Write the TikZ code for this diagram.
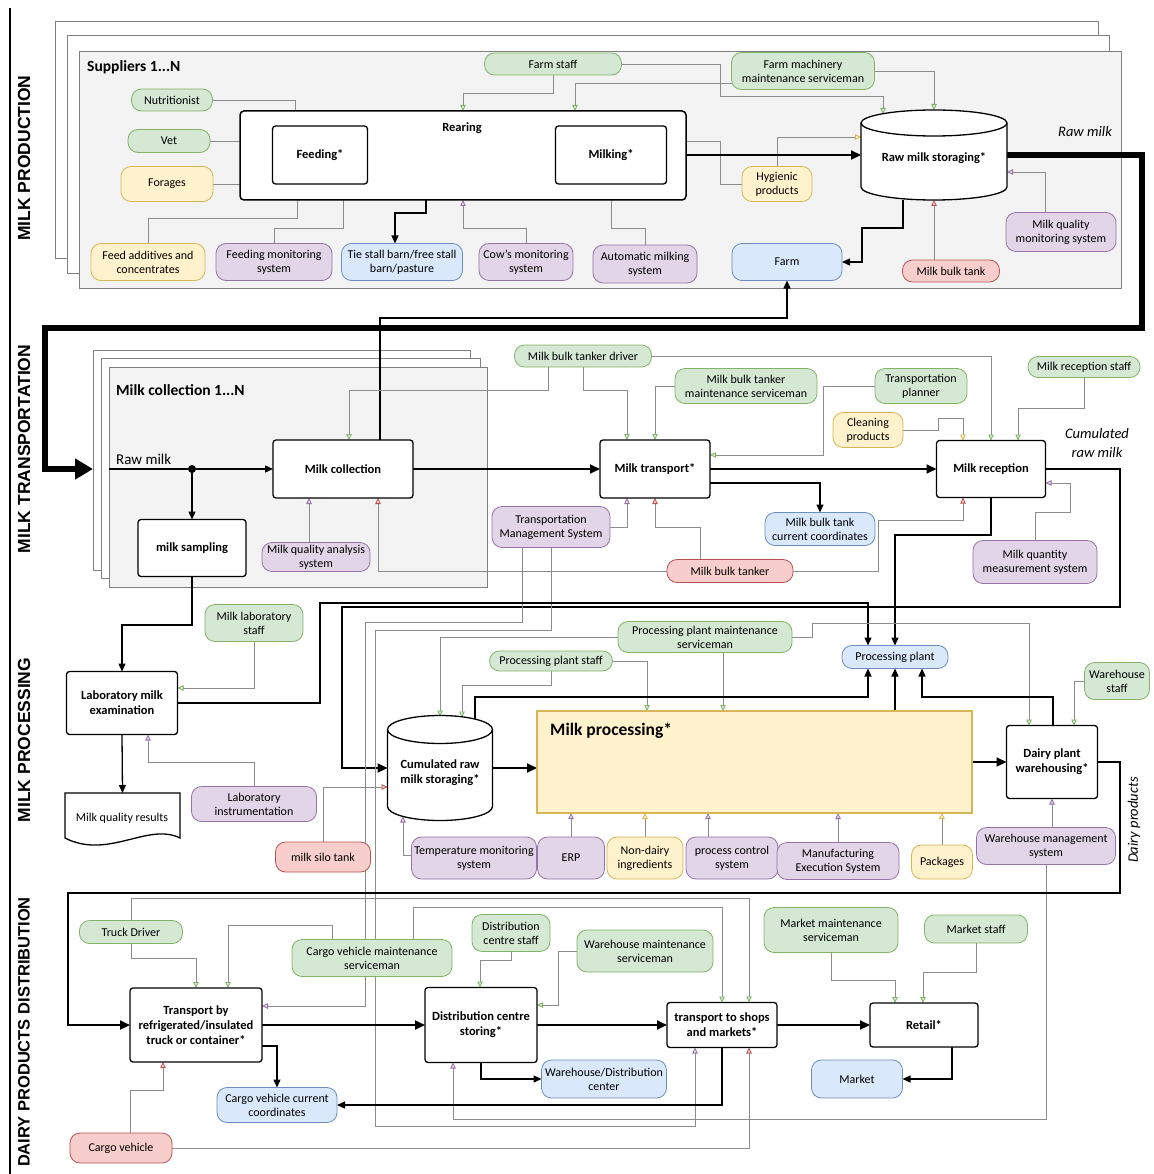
\documentclass[tikz,border=0pt]{standalone}
\usepackage{fontspec}
\setmainfont{Carlito}
\newfontfamily\lanefont{Liberation Sans}
\usetikzlibrary{arrows.meta}
\pgfdeclarelayer{framelayer}
\pgfdeclarelayer{linelayer}
\pgfsetlayers{framelayer,linelayer,main}

\definecolor{gfill}{HTML}{D5E8D4}\definecolor{gline}{HTML}{82B366}
\definecolor{yfill}{HTML}{FFF2CC}\definecolor{yline}{HTML}{D6B656}
\definecolor{pfill}{HTML}{E1D5E7}\definecolor{pline}{HTML}{9673A6}
\definecolor{bfill}{HTML}{DAE8FC}\definecolor{bline}{HTML}{6C8EBF}
\definecolor{rfill}{HTML}{F8CECC}\definecolor{rline}{HTML}{B85450}
\definecolor{conn}{HTML}{8C8C8C}
\definecolor{lanegray}{HTML}{7F7F7F}
\definecolor{framefill}{HTML}{F3F3F3}

\tikzset{
  wh/.style 2 args={minimum width=#1pt, minimum height=#2pt},
  pill/.style={rounded corners=10pt, line width=0.8pt, align=center, inner sep=0.5pt, outer sep=0pt,
    font=\fontsize{12}{14}\selectfont},
  gpill/.style={pill, fill=gfill, draw=gline},
  ypill/.style={pill, fill=yfill, draw=yline},
  ppill/.style={pill, fill=pfill, draw=pline},
  bpill/.style={pill, fill=bfill, draw=bline},
  rpill/.style={pill, fill=rfill, draw=rline},
  proc/.style={draw=black, line width=1.3pt, rounded corners=3pt, fill=white, align=center,
    inner sep=1pt, outer sep=0pt, font=\bfseries\fontsize{12.5}{15}\selectfont},
  proctext/.style={align=center, inner sep=0pt, font=\bfseries\fontsize{12.5}{15}\selectfont},
  holder/.style={draw=none, inner sep=0pt, outer sep=0pt},
  cylbody/.style={draw=black, line width=1.3pt, fill=white},
  conline/.style={draw=conn, line width=0.8pt},
  gar/.style={conline, -{Triangle[length=6pt,width=5.5pt,fill=gfill,color=gline]}},
  yar/.style={conline, -{Triangle[length=6pt,width=5.5pt,fill=yfill,color=yline]}},
  par/.style={conline, -{Triangle[length=6pt,width=5.5pt,fill=pfill,color=pline]}},
  rar/.style={conline, -{Triangle[length=6pt,width=5.5pt,fill=rfill,color=rline]}},
  bflow/.style={draw=black, line width=1.3pt, -{Triangle[length=8pt,width=7pt]}},
  mflow/.style={draw=black, line width=2pt, -{Triangle[length=10pt,width=9pt]}},
  thickflow/.style={draw=black, line width=2.2pt, -{Triangle[length=10pt,width=9pt]}},
  bigflow/.style={draw=black, line width=5.5pt, -{Triangle[length=18pt,width=20pt]}},
  laneline/.style={draw=lanegray, line width=0.6pt, double=white, double distance=1.2pt},
  lanelbl/.style={rotate=90, inner sep=0pt, font=\lanefont\bfseries\fontsize{17.5}{19}\selectfont},
  framelbl/.style={anchor=west, inner sep=0pt, font=\bfseries\fontsize{15.5}{17}\selectfont},
  backframe/.style={draw=lanegray, line width=0.8pt, fill=white},
  frontframe/.style={draw=lanegray, line width=0.8pt, fill=framefill},
  note/.style={align=center, inner sep=0pt, font=\itshape\fontsize{14.5}{19}\selectfont},
}

% cylinder outline around a holder node: #1 node, #2 half width, #3 half height of the ellipse
\newcommand\drawcyl[3]{%
  \draw[cylbody] ([yshift=-#3]#1.north west) -- ([yshift=#3]#1.south west)
    arc[start angle=180,end angle=360,x radius=#2,y radius=#3]
    -- ([yshift=-#3]#1.north east)
    arc[start angle=0,end angle=180,x radius=#2,y radius=#3] -- cycle;
  \draw[draw=black, line width=1.3pt] ([yshift=-#3]#1.north west)
    arc[start angle=180,end angle=360,x radius=#2,y radius=#3];}

\begin{document}
\begin{tikzpicture}[x=1pt,y=-1pt]
\useasboundingbox (0,0) rectangle (1153,1174);

% ---------------- swimlanes and stacked frames ----------------
\begin{pgfonlayer}{framelayer}
  \fill[white] (0,0) rectangle (1153,1174);
  \draw[laneline] (10,8) -- (1152,8);
  \draw[laneline] (10,302) -- (1152,302);
  \draw[laneline] (10,593) -- (1152,593);
  \draw[laneline] (10,885) -- (1152,885);
  \draw[laneline] (38,8) -- (38,1174);
  \draw[line width=2.5pt] (10,8) -- (10,1174);
  % suppliers
  \draw[backframe] (55,21) rectangle (1098,258);
  \draw[backframe] (67,35) rectangle (1109,273);
  \draw[frontframe] (79,51) rectangle (1121,288);
  % milk collection points
  \draw[backframe] (93,350) rectangle (470,570);
  \draw[backframe] (101,358) rectangle (480,578);
  \draw[frontframe] (109,367) rectangle (487,587);
\end{pgfonlayer}

\node[lanelbl] (lane1) at (24,158) {MILK PRODUCTION};
\node[lanelbl] (lane2) at (24,449) {MILK TRANSPORTATION};
\node[lanelbl] (lane3) at (24,740) {MILK PROCESSING};
\node[lanelbl, font=\lanefont\bfseries\fontsize{16.5}{18}\selectfont] (lane4) at (24,1032) {DAIRY PRODUCTS DISTRIBUTION};

\node[framelbl] (suplbl) at (87,67) {Suppliers 1...N};
\node[framelbl] (colllbl) at (116,390) {Milk collection 1...N};

% ---------------- milk production ----------------
\node[proc, line width=1.5pt, rounded corners=4pt, wh={446}{89}] (rear) at (463,155.5) {};
\node[proctext] (rearlbl) at (462,128) {Rearing};
\node[proc, wh={95}{58}] (feed) at (320,155) {Feeding*};
\node[proc, wh={111}{58}] (milk) at (611,155) {Milking*};
\node[holder, wh={146}{90}] (rs) at (934,155) {};
\drawcyl{rs}{73pt}{13pt}
\node[proctext] (rslbl) at ([yshift=-3pt]rs.center) {Raw milk storaging*};

\node[gpill, wh={81}{22}] (nutr) at (172,100) {Nutritionist};
\node[gpill, wh={82}{23}] (vet) at (169,141) {Vet};
\node[ypill, wh={92}{35}] (forage) at (167,184) {Forages};
\node[ypill, wh={114}{37}] (feedadd) at (148,262) {Feed additives and\\concentrates};
\node[ppill, wh={116}{37}] (fms) at (274,262) {Feeding monitoring\\system};
\node[bpill, wh={121}{37}] (tie) at (402,262) {Tie stall barn/free stall\\barn/pasture};
\node[ppill, wh={94}{37}] (cows) at (526,262) {Cow's monitoring\\system};
\node[ppill, wh={104}{38}] (ams) at (645,264) {Automatic milking\\system};
\node[bpill, wh={110}{37}] (farm) at (787,262) {Farm};
\node[rpill, wh={97}{22}] (mbt) at (951,271) {Milk bulk tank};
\node[ppill, wh={110}{39}] (mqmon) at (1061,232) {Milk quality\\monitoring system};
\node[ypill, wh={70}{35}] (hyg) at (777,184) {Hygienic\\products};
\node[gpill, wh={137}{22}] (fstaff) at (553,64) {Farm staff};
\node[gpill, wh={143}{37}] (fmach) at (803,71) {Farm machinery\\maintenance serviceman};
\node[note] (rawlbl) at (1085,132) {Raw milk};

% ---------------- milk transportation ----------------
\coordinate (rawin) at (93,469);
\coordinate (rawstart) at (109,469);
\coordinate (split) at (192,469);
\node[anchor=west, inner sep=0pt, font=\fontsize{15}{17}\selectfont] (rawlbl2) at (116,459) {Raw milk};
\node[proc, wh={140}{58}] (coll) at (343,469) {Milk collection};
\node[proc, wh={108}{57}] (samp) at (192,548) {milk sampling};
\node[ppill, wh={108}{29}] (mqas) at (316,557) {Milk quality analysis\\system};
\node[proc, wh={110}{58}] (mtrans) at (655,469) {Milk transport*};
\node[proc, wh={109}{57}] (mrec) at (991,469) {Milk reception};
\node[gpill, wh={137}{22}] (driver) at (583,356) {Milk bulk tanker driver};
\node[gpill, wh={142}{35}] (tankmaint) at (746,386) {Milk bulk tanker\\maintenance serviceman};
\node[gpill, wh={92}{35}] (planner) at (921,386) {Transportation\\planner};
\node[ypill, wh={70}{35}] (clean) at (868,430) {Cleaning\\products};
\node[gpill, wh={112}{21}] (recstaff) at (1084,367) {Milk reception staff};
\node[bpill, wh={110}{33}] (coords) at (820,529) {Milk bulk tank\\current coordinates};
\node[ppill, wh={118}{41}] (tms) at (551,527) {Transportation\\Management System};
\node[rpill, wh={126}{23}] (tanker) at (730,571) {Milk bulk tanker};
\node[ppill, wh={124}{43}] (mqms) at (1035,562) {Milk quantity\\measurement system};
\node[note] (cumlbl) at (1097,443) {Cumulated\\raw milk};

% ---------------- milk processing ----------------
\node[proc, wh={111}{63}] (lab) at (122,703) {Laboratory milk\\examination};
\node[holder, wh={115}{47}] (results) at (122.5,816.5) {};
\draw[draw=black, line width=1.3pt, fill=white] (65,793) -- (180,793) -- (180,838)
  .. controls (148,822) and (108,860) .. (65,838) -- cycle;
\node[inner sep=0pt, font=\fontsize{12}{14}\selectfont] (resultslbl) at (122,818) {Milk quality results};
\node[gpill, wh={98}{37}] (labstaff) at (254,623) {Milk laboratory\\staff};
\node[ppill, wh={125}{35}] (labinst) at (254,804) {Laboratory\\instrumentation};
\node[rpill, wh={95}{30}] (silo) at (323,857) {milk silo tank};
\node[holder, wh={105}{105}] (crs) at (440,768) {};
\drawcyl{crs}{52.5pt}{14pt}
\node[proctext] (crslbl) at ([yshift=-5pt]crs.center) {Cumulated raw\\milk storaging*};
\node[gpill, wh={123}{20}] (ppstaff) at (551,661) {Processing plant staff};
\node[gpill, wh={174}{31}] (ppmaint) at (705,637) {Processing plant maintenance\\serviceman};
\node[draw=yline, fill=yfill, line width=1.3pt, inner sep=0pt, outer sep=0pt, wh={435}{102}] (mproc) at (754.5,762) {};
\node[anchor=west, inner sep=0pt, font=\bfseries\fontsize{17.5}{20}\selectfont] (mproclbl) at (550,731) {Milk processing*};
\node[proc, wh={91}{73}] (dpw) at (1052,762) {Dairy plant\\warehousing*};
\node[bpill, wh={106}{23}] (pplant) at (895,657) {Processing plant};
\node[gpill, wh={65}{37}] (whstaff) at (1117,681) {Warehouse\\staff};
\node[ppill, wh={139}{37}] (wms) at (1046,846) {Warehouse management\\system};
\node[ppill, wh={125}{42}] (temp) at (474,858) {Temperature monitoring\\system};
\node[ppill, wh={67}{42}] (erp) at (571,858) {ERP};
\node[ypill, wh={76}{42}] (nondairy) at (645,858) {Non-dairy\\ingredients};
\node[ppill, wh={92}{42}] (pcs) at (732,858) {process control\\system};
\node[ppill, wh={122}{37}] (mes) at (838,861) {Manufacturing\\Execution System};
\node[ypill, wh={61}{34}] (pack) at (942,862) {Packages};
\node[note, rotate=90] (dairylbl) at (1134,820) {Dairy products};

% ---------------- dairy products distribution ----------------
\node[gpill, wh={103}{23}] (truckdrv) at (131,932) {Truck Driver};
\node[proc, wh={132}{74}] (trans) at (196,1025) {Transport by\\refrigerated/insulated\\truck or container*};
\node[gpill, wh={160}{37}] (cvms) at (372,958) {Cargo vehicle maintenance\\serviceman};
\node[rpill, wh={102}{30}] (cargo) at (121,1148) {Cargo vehicle};
\node[bpill, wh={120}{35}] (cvcc) at (277,1105) {Cargo vehicle current\\coordinates};
\node[gpill, wh={78}{37}] (dcstaff) at (511,933) {Distribution\\centre staff};
\node[gpill, wh={136}{42}] (whms) at (645,951) {Warehouse maintenance\\serviceman};
\node[proc, wh={112}{75}] (dcs) at (481,1025) {Distribution centre\\storing*};
\node[bpill, wh={125}{38}] (wdc) at (604,1079) {Warehouse/Distribution\\center};
\node[proc, wh={110}{45}] (tsm) at (722,1025) {transport to shops\\and markets*};
\node[proc, wh={108}{44}] (retail) at (924,1025) {Retail*};
\node[gpill, wh={134}{45}] (mms) at (831,930) {Market maintenance\\serviceman};
\node[gpill, wh={103}{28}] (mstaff) at (976,929) {Market staff};
\node[bpill, wh={91}{38}] (market) at (857,1079) {Market};

\path ([xshift=-24pt]pcs.north) coordinate (pcsup);

% ---------------- connectors ----------------
\begin{pgfonlayer}{linelayer}
  % milk production
  \draw[gar] (nutr.east) -| ([xshift=-25pt]feed.north);
  \draw[gar] (vet.east) -- (vet.east -| feed.west);
  \draw[yar] (forage.east) -- (245,184) |- ([yshift=-15pt]feed.west);
  \draw[yar] (feedadd.north) |- (297,218) -- ([xshift=-23pt]feed.south);
  \draw[par] (fms.north) |- (343,228) -- ([xshift=23pt]feed.south);
  \draw[bflow] ([xshift=-37pt]rear.south) |- (395,213) -- ([xshift=-7pt]tie.north);
  \draw[par] (cows.north) |- (463,228) -- (rear.south);
  \draw[par] (ams.north) |- (611,228) -- (milk.south);
  \draw[gar] (fstaff.south) |- (463,93) -- (rear.north);
  \draw[gar] ([yshift=-12pt]fmach.west) -| ([xshift=112pt]rear.north);
  \draw[gar] (fstaff.east) -| (720,96) -| ([xshift=-51pt,yshift=-4pt]rs.north);
  \draw[gar] (fmach.east) -| (rs.north);
  \draw[yar] (hyg.west) -- (720,184) |- ([yshift=14pt]milk.east);
  \draw[yar] (hyg.north) |- ([yshift=18pt]rs.west);
  \draw[mflow] (milk.east) -- (rs.west);
  \draw[bflow] ([xshift=-31pt]rs.south) |- (862,228) |- (farm.east);
  \draw[rar] ([xshift=-17pt]mbt.north) -- (rs.south);
  \draw[par] ([xshift=-16pt]mqmon.north) |- ([yshift=-17pt]rs.east);
  \draw[bigflow] (rs.east) -| (1142,328) -| (45,469) -- (rawin);
  \draw[bflow] ([xshift=37pt]coll.north) |- (787,318) -- (farm.south);

  % milk transportation
  \draw[bflow] (rawstart) -- (coll.west);
  \fill (split) circle[radius=4pt];
  \draw[bflow] (split) -- (samp.north);
  \draw[par] ([xshift=-7pt]mqas.north) -- ([xshift=-34pt]coll.south);
  \draw[rar] (tanker.west) -| ([xshift=35pt]coll.south);
  \draw[gar] ([xshift=-35pt]driver.south) |- (349,390) -- ([xshift=6pt]coll.north);
  \draw[gar] (driver.south) |- (627,390) -- ([xshift=-28pt]mtrans.north);
  \draw[gar] (driver.east) -| (mrec.north);
  \draw[gar] (tankmaint.west) -| (mtrans.north);
  \draw[gar] (planner.west) -- (823,386) |- ([yshift=14pt]mtrans.east);
  \draw[yar] (clean.east) -| (938,418) -| ([xshift=-28pt]mrec.north);
  \draw[gar] (recstaff.south) |- (1018,408) -- ([xshift=27pt]mrec.north);
  \draw[mflow] (coll.east) -- (mtrans.west);
  \draw[mflow] (mtrans.east) -- (mrec.west);
  \draw[bflow] ([yshift=-14pt]mtrans.east) -| (coords.north);
  \draw[par] (tms.east) -| ([xshift=-28pt]mtrans.south);
  \draw[rar] ([xshift=-30pt]tanker.north) |- (655,527) -- (mtrans.south);
  \draw[rar] (tanker.east) -| (878,520) -| ([xshift=-28pt]mrec.south);
  \draw[par] (mqms.north) |- (1070,512) |- ([yshift=-14pt]mrec.east);
  \draw[bflow] (mrec.south) |- (895,535) -- (pplant.north);
  \draw[thickflow] (mrec.east) -| (1120,607) -| (342,768) -- (crs.west);
  \draw[par] ([xshift=-29pt]tms.south) |- (365,622) |- ([yshift=19pt]trans.east);
  \draw[par] (tms.south) |- (375,630) |- (695,1126) -- ([xshift=-27pt]tsm.south);

  % milk processing
  \draw[bflow] (samp.south) |- (122,625) -- (lab.north);
  \draw[bflow] (lab.south) -- (results.north);
  \draw[gar] (labstaff.south) |- ([yshift=15pt]lab.east);
  \draw[par] (labinst.north) |- (148,762) -- ([xshift=26pt]lab.south);
  \draw[bflow] (lab.east) -| (320,603) -| ([xshift=-27pt]pplant.north);
  \draw[rar] (silo.north) |- ([yshift=-19pt]crs.west);
  \draw[par] ([yshift=3pt]temp.west) -| ([xshift=-37pt,yshift=4pt]crs.south);
  \draw[gar] (ppstaff.south) |- (462,685) -- ([xshift=22pt,yshift=-2pt]crs.north);
  \draw[gar] (ppmaint.west) -| ([yshift=-1pt]crs.north);
  \draw[gar] (ppstaff.east) -| ([xshift=-107.5pt]mproc.north);
  \draw[gar] ([xshift=18pt]ppmaint.south) -- ([xshift=-31.5pt]mproc.north);
  \draw[gar] (ppmaint.east) -| (812,623) -| ([xshift=-23pt]dpw.north);
  \draw[mflow] (crs.east) -- (crs.east -| mproc.west);
  \draw[mflow] (mproc.east) -- (dpw.west);
  \draw[bflow] ([xshift=35pt,yshift=-4pt]crs.north) |- (868,697) -- ([xshift=-27pt]pplant.south);
  \draw[bflow] ([xshift=140.5pt]mproc.north) -- (pplant.south);
  \draw[bflow] ([xshift=1pt]dpw.north) |- (922,697) -- ([xshift=27pt]pplant.south);
  \draw[gar] (whstaff.west) -| ([xshift=22pt]dpw.north);
  \draw[par] ([xshift=6pt]wms.north) -- (dpw.south);
  \draw[par] (wms.south) |- (453,1119) -- ([xshift=-28pt]dcs.south);
  \draw[par] (erp.north) -- (erp.north |- mproc.south);
  \draw[yar] (nondairy.north) -- (nondairy.north |- mproc.south);
  \draw[par] (pcsup) -- (pcsup |- mproc.south);
  \draw[par] (mes.north) -- (mes.north |- mproc.south);
  \draw[yar] (pack.north) -- (pack.north |- mproc.south);

  % dairy products distribution
  \draw[thickflow] (dpw.east) -| (1120,893) -| (68,1025) -- (trans.west);
  \draw[gar] (truckdrv.south) |- (196,958) -- (trans.north);
  \draw[gar] (truckdrv.north) |- (749,898) -- ([xshift=27pt]tsm.north);
  \draw[gar] ([xshift=-40pt]cvms.north) |- (228,925) -- ([xshift=32pt]trans.north);
  \draw[gar] ([xshift=41pt]cvms.north) |- (722,907) -- (tsm.north);
  \draw[rar] ([xshift=9pt]cargo.north) |- (163,1090) -- ([xshift=-33pt]trans.south);
  \draw[rar] (cargo.east) -| ([xshift=27pt]tsm.south);
  \draw[bflow] ([yshift=-21pt]trans.east) -| (cvcc.north);
  \draw[mflow] (trans.east) -- (dcs.west);
  \draw[gar] (dcstaff.south) |- (480,960) -- ([xshift=-1pt]dcs.north);
  \draw[gar] (whms.west) -- (558,951) |- ([yshift=20pt]dcs.east);
  \draw[bflow] (dcs.south) |- (wdc.west);
  \draw[mflow] (dcs.east) -- (tsm.west);
  \draw[bflow] (tsm.south) |- (cvcc.east);
  \draw[mflow] (tsm.east) -- (retail.west);
  \draw[gar] (mms.south) |- (895,980) -- ([xshift=-29pt]retail.north);
  \draw[gar] (mstaff.south) |- (923,972) -- ([xshift=-1pt]retail.north);
  \draw[bflow] ([xshift=28pt]retail.south) |- (market.east);
\end{pgfonlayer}
\end{tikzpicture}
\end{document}
